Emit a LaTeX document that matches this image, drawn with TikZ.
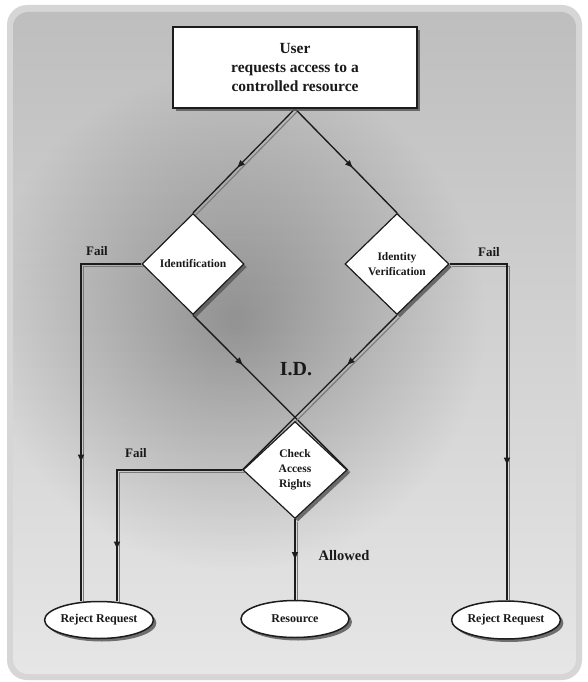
\documentclass[tikz,border=0pt]{standalone}
\usepackage{fontspec}
\setmainfont{Liberation Serif}
\usetikzlibrary{shapes.geometric,arrows.meta,decorations.markings,shadows}
\pgfdeclarelayer{bg}
\pgfdeclarelayer{lines}
\pgfsetlayers{bg,lines,main}
\definecolor{frameC}{HTML}{D6D6D6}
\definecolor{panTop}{HTML}{BEBEBE}
\definecolor{panBot}{HTML}{E6E6E6}
\definecolor{lineC}{HTML}{1C1C1C}
\definecolor{lineSh}{HTML}{7A7A7A}
\definecolor{boxSh}{HTML}{5A5A5A}
\begin{document}
\begin{tikzpicture}[x=1pt,y=-1pt,
  every node/.style={font=\bfseries, text=black!90},
  shdw/.style={drop shadow={shadow xshift=3pt, shadow yshift=-3pt, fill=boxSh, opacity=0.85}},
  startbox/.style={draw=lineC, line width=1.4pt, fill=white, shdw, minimum width=244pt, minimum height=81pt, inner sep=0pt, align=center, font=\bfseries\fontsize{15.5}{19}\selectfont},
  decbox/.style={diamond, draw=lineC, line width=1.2pt, fill=white, shdw, inner sep=0pt, align=center, font=\bfseries\fontsize{11.5}{15}\selectfont},
  endbox/.style={ellipse, draw=lineC, line width=1.5pt, fill=white, shdw, minimum width=108pt, minimum height=37pt, inner sep=0pt, font=\bfseries\fontsize{12}{14}\selectfont},
  lbl/.style={font=\bfseries\fontsize{13}{15}\selectfont},
  conn/.style={draw=lineC, line width=1.3pt, preaction={draw=lineSh, line width=1.1pt, transform canvas={shift={(2.5pt,-2.5pt)}}}},
  midarr/.style={postaction={decorate, decoration={markings, mark=at position #1 with {\arrow{Triangle[length=7pt,width=6pt]}}}}}
]
\useasboundingbox (0,0) rectangle (588,682);
\begin{pgfonlayer}{bg}
  \fill[white] (0,0) rectangle (588,682);
  \fill[frameC, rounded corners=20pt] (7,5) rectangle (582,680);
  \begin{scope}
    \clip[rounded corners=15pt] (13,12) rectangle (576,674);
    \shade[top color=panTop, bottom color=panBot] (13,12) rectangle (576,674);
    \foreach \r in {250,246,...,10} \fill[black, opacity=0.0042] (235,320) circle (\r pt);
  \end{scope}
\end{pgfonlayer}

\node[startbox] (user) at (295,67.5) {User\\requests access to a\\controlled resource};
\node[decbox, minimum width=102pt, minimum height=101pt] (ident) at (193,264) {Identification};
\node[decbox, minimum width=104pt, minimum height=101pt] (idv) at (397,264) {Identity\\Verification};
\node[decbox, minimum width=104pt, minimum height=97pt] (check) at (295,470) {Check\\Access\\Rights};
\node[endbox] (rejL) at (99,620) {Reject Request};
\node[endbox] (res) at (295,619) {Resource};
\node[endbox, minimum width=104pt, minimum height=38pt] (rejR) at (506,620) {Reject Request};

\node[lbl] (fail1) at (97,251) {Fail};
\node[lbl] (fail2) at (489,252) {Fail};
\node[lbl] (fail3) at (136,453) {Fail};
\node[lbl, font=\bfseries\fontsize{14.5}{16}\selectfont] (allowed) at (344,556) {Allowed};
\node[font=\bfseries\fontsize{20}{24}\selectfont] (id) at (296,369) {I.D.};

\coordinate (fl) at (81,264);
\coordinate (fc) at (117,470);
\coordinate (fr) at (507,264);

\begin{pgfonlayer}{lines}
  \draw[conn, midarr=82pt] (user.south) -- (ident.north);
  \draw[conn, midarr=82pt] (user.south) -- (idv.north);
  \draw[conn, midarr=70pt] (ident.south) -- (check.east);
  \draw[conn, midarr=70pt] (idv.south) -- (check.west);
  \draw[conn, midarr=258pt] (ident.west) -- (fl) -- (fl |- rejL.north);
  \draw[conn, midarr=204pt] (check.west) -- (fc) -- (fc |- rejL.north);
  \draw[conn, midarr=258pt] (idv.east) -- (fr) -- (fr |- rejR.north);
  \draw[conn, midarr=40pt] (check.south) -- (res.north);
\end{pgfonlayer}
\end{tikzpicture}
\end{document}
